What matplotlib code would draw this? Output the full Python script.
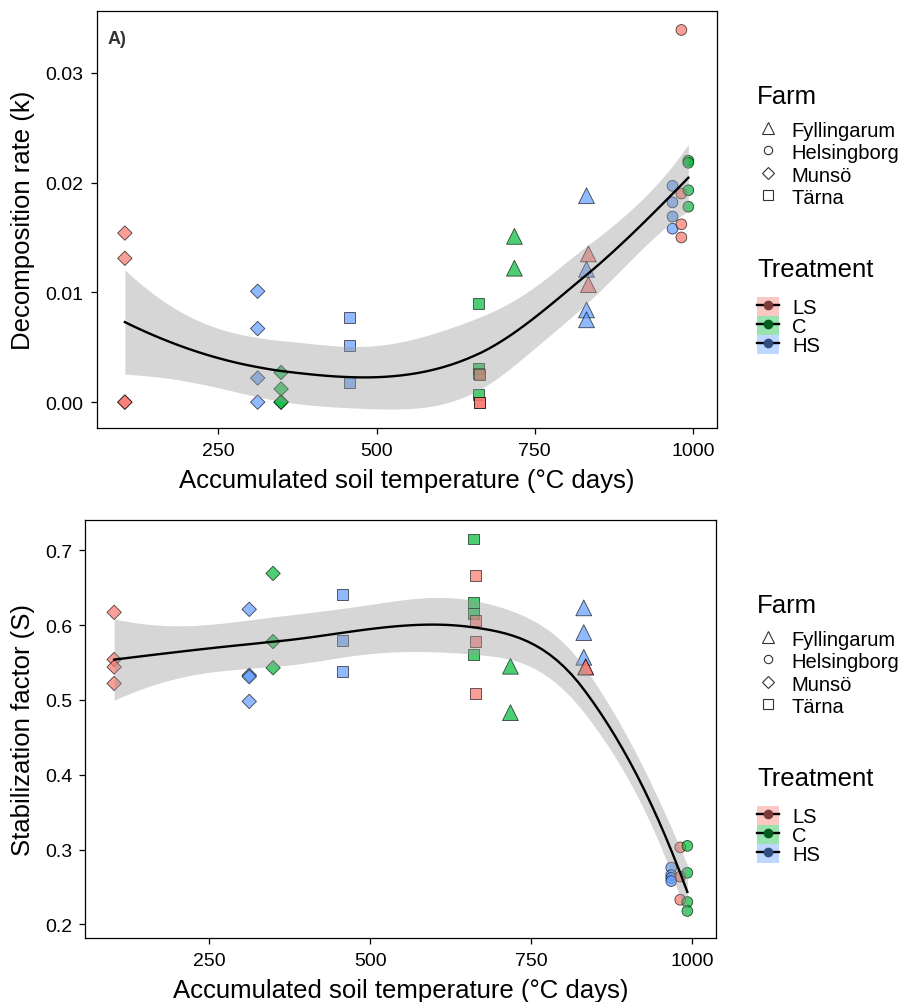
import math
import numpy as np
import pandas as pd
import matplotlib
matplotlib.use('Agg')
import matplotlib.pyplot as plt
from matplotlib.lines import Line2D
from matplotlib.patches import Patch

plt.rcParams['font.family'] = ['Liberation Sans', 'DejaVu Sans']

# one entry per farm x treatment group
group_farm = ['Munsö', 'Munsö', 'Munsö', 'Tärna', 'Tärna', 'Tärna',
              'Fyllingarum', 'Fyllingarum', 'Fyllingarum',
              'Helsingborg', 'Helsingborg', 'Helsingborg']
group_trt = ['LS', 'HS', 'C', 'HS', 'C', 'LS', 'C', 'HS', 'LS', 'HS', 'LS', 'C']
group_temp = [102, 312, 349, 457, 661, 663, 718, 832, 835, 968, 982, 993]

# decomposition rate k per group
k_vals = [
    [0.0154, 0.0131, 0.0, 0.0],
    [0.0101, 0.0067, 0.0022, 0.0],
    [0.0027, 0.0012, 0.0, 0.0],
    [0.0077, 0.0052, 0.0018],
    [0.0090, 0.0031, 0.0026, 0.0007],
    [0.0025, 0.0, 0.0],
    [0.0151, 0.0122],
    [0.0188, 0.0121, 0.0084, 0.0075],
    [0.0135, 0.0107],
    [0.0197, 0.0182, 0.0169, 0.0158],
    [0.0339, 0.0190, 0.0162, 0.0150],
    [0.0220, 0.0218, 0.0193, 0.0178],
]

# stabilization factor S per group
s_vals = [
    [0.617, 0.554, 0.544, 0.522],
    [0.621, 0.533, 0.531, 0.498],
    [0.669, 0.578, 0.543],
    [0.641, 0.580, 0.538],
    [0.715, 0.630, 0.616, 0.561],
    [0.666, 0.606, 0.578, 0.508],
    [0.545, 0.483],
    [0.623, 0.590, 0.557],
    [0.544, 0.544],
    [0.276, 0.266, 0.262, 0.258],
    [0.303, 0.264, 0.233],
    [0.305, 0.269, 0.230, 0.218],
]

farm_order = ['Fyllingarum', 'Helsingborg', 'Munsö', 'Tärna']
trt_order = ['LS', 'C', 'HS']
trt_colors = {'LS': '#F8766D', 'C': '#00BA38', 'HS': '#619CFF'}
farm_markers = {'Fyllingarum': '^', 'Helsingborg': 'o', 'Munsö': 'D', 'Tärna': 's'}
farm_sizes = {'Fyllingarum': 130, 'Helsingborg': 60, 'Munsö': 54, 'Tärna': 62}


def expand(vals):
    rows = []
    for f, t, x, vs in zip(group_farm, group_trt, group_temp, vals):
        for v in vs:
            rows.append((f, t, x, v))
    return pd.DataFrame(rows, columns=['farm', 'trt', 'temp', 'value'])


def t_quantile(p, df):
    xs = np.linspace(0, 12, 40001)
    c = math.exp(math.lgamma((df + 1) / 2) - math.lgamma(df / 2)) / math.sqrt(df * math.pi)
    pdf = c * (1 + xs ** 2 / df) ** (-(df + 1) / 2)
    cdf = 0.5 + np.concatenate([[0], np.cumsum((pdf[1:] + pdf[:-1]) / 2 * np.diff(xs))])
    return np.interp(p, cdf, xs)


def loess(x, y, xg, span=0.75):
    # local quadratic loess, evaluated at kd-tree vertices and
    # blended with cubic hermite pieces (like R's surface="interpolate")
    n = len(x)
    q = int(np.floor(n * span))
    xs = np.sort(x)

    def local_ops(x0):
        d = np.abs(x - x0)
        h = np.sort(d)[q - 1] * 1.0000001
        w = np.clip(1 - (d / h) ** 3, 0, None) ** 3
        X = np.column_stack([np.ones(n), x - x0, (x - x0) ** 2])
        A = X.T * w
        B = np.linalg.solve(A @ X, A)
        return B[0], B[1]

    rng = xs[-1] - xs[0]
    lo_b, hi_b = xs[0] - 0.005 * rng, xs[-1] + 0.005 * rng
    verts = [lo_b, hi_b]
    fc = int(np.floor(n * span * 0.2))

    def split(l, u, a, b):
        if u - l + 1 <= fc:
            return
        m = (l + u) // 2
        v = (xs[m] + xs[m + 1]) / 2
        if v <= a or v >= b:
            return
        verts.append(v)
        split(l, m, a, v)
        split(m + 1, u, v, b)

    split(0, n - 1, lo_b, hi_b)
    verts = np.unique(verts)
    ops = [local_ops(v) for v in verts]

    def row(x0):
        i = min(np.searchsorted(verts, x0, side='right') - 1, len(verts) - 2)
        a, b = verts[i], verts[i + 1]
        hh = b - a
        t = (x0 - a) / hh
        h00 = 2 * t ** 3 - 3 * t ** 2 + 1
        h10 = t ** 3 - 2 * t ** 2 + t
        h01 = -2 * t ** 3 + 3 * t ** 2
        h11 = t ** 3 - t ** 2
        return (h00 * ops[i][0] + h10 * hh * ops[i][1]
                + h01 * ops[i + 1][0] + h11 * hh * ops[i + 1][1])

    L = np.array([row(v) for v in x])
    Lg = np.array([row(v) for v in xg])
    fit = Lg @ y
    res = y - L @ y
    IL = np.eye(n) - L
    M = IL.T @ IL
    d1 = np.trace(M)
    d2 = np.trace(M @ M)
    s = math.sqrt(np.sum(res ** 2) / d1)
    se = s * np.sqrt(np.sum(Lg ** 2, axis=1))
    tq = t_quantile(0.975, d1 ** 2 / d2)
    return fit, fit - tq * se, fit + tq * se


def panel(ax, df, ylabel, yticks, yfmt):
    for farm in farm_order:
        sub = df[df['farm'] == farm]
        ax.scatter(sub['temp'], sub['value'], marker=farm_markers[farm],
                   s=farm_sizes[farm], c=[trt_colors[t] for t in sub['trt']],
                   edgecolors='black', linewidths=0.6, alpha=0.7, zorder=2)
    x = df['temp'].to_numpy(float)
    y = df['value'].to_numpy(float)
    xg = np.linspace(x.min(), x.max(), 80)
    fit, lo, hi = loess(x, y, xg)
    ax.fill_between(xg, lo, hi, color='#999999', alpha=0.4, lw=0, zorder=3)
    ax.plot(xg, fit, color='black', lw=1.7, zorder=4)

    xpad = 0.05 * (x.max() - x.min())
    ax.set_xlim(x.min() - xpad, x.max() + xpad)
    ymin = min(y.min(), lo.min())
    ymax = max(y.max(), hi.max())
    ypad = 0.05 * (ymax - ymin)
    ax.set_ylim(ymin - ypad, ymax + ypad)

    ax.set_xticks([250, 500, 750, 1000])
    ax.set_yticks(yticks)
    ax.set_yticklabels([yfmt.format(v) for v in yticks])
    ax.tick_params(length=4, width=0.9, labelsize=14, colors='black')
    ax.tick_params(axis='x', pad=6)
    ax.tick_params(axis='y', pad=5.5)
    for sp in ax.spines.values():
        sp.set_linewidth(0.9)
    ax.set_xlabel('Accumulated soil temperature (°C days)', fontsize=18.5, labelpad=6.5)
    ax.set_ylabel(ylabel, fontsize=18.5, labelpad=7.5)


def legends(fig, dy):
    x0 = 757 / 904
    fig.text(x0, 1 - (97 + dy) / 1003, 'Farm', fontsize=18.5, va='center', ha='left')
    farm_handles = [Line2D([], [], marker=farm_markers[f], linestyle='none',
                           markerfacecolor='none', markeredgecolor='#333333',
                           markeredgewidth=0.8,
                           markersize={'^': 9, 'o': 6, 'D': 6.5, 's': 6.5}[farm_markers[f]])
                    for f in farm_order]
    fig.legend(farm_handles, farm_order, loc='upper left',
               bbox_to_anchor=(x0, 1 - (121 + dy) / 1003), frameon=False,
               fontsize=14.5, handlelength=1.05, handleheight=1.0,
               labelspacing=0.12, handletextpad=0.65, borderpad=0,
               borderaxespad=0)
    fig.text(x0, 1 - (270 + dy) / 1003, 'Treatment', fontsize=18.5, va='center', ha='left')
    trt_handles = []
    for t in trt_order:
        c = np.array(matplotlib.colors.to_rgb(trt_colors[t]))
        trt_handles.append((Patch(facecolor=trt_colors[t], alpha=0.4, edgecolor='none'),
                            Line2D([], [], color='black', lw=1.7),
                            Line2D([], [], marker='o', linestyle='none', markersize=7,
                                   markerfacecolor=c * 0.5, markeredgecolor='none')))
    fig.legend(trt_handles, trt_order, loc='upper left',
               bbox_to_anchor=(x0, 1 - (298 + dy) / 1003), frameon=False,
               fontsize=14.5, handlelength=1.1, handleheight=1.07,
               labelspacing=-0.075, handletextpad=0.65, borderpad=0,
               borderaxespad=0)


fig = plt.figure(figsize=(9.04, 10.03), dpi=100)
ax1 = fig.add_axes([96.7 / 904, 1 - 429 / 1003, (716.5 - 96.7) / 904, (429 - 12) / 1003])
ax2 = fig.add_axes([85.5 / 904, 1 - 939 / 1003, (716 - 85.5) / 904, (939 - 521) / 1003])

panel(ax1, expand(k_vals), 'Decomposition rate (k)', [0.0, 0.01, 0.02, 0.03], '{:.2f}')
panel(ax2, expand(s_vals), 'Stabilization factor (S)', [0.2, 0.3, 0.4, 0.5, 0.6, 0.7], '{:.1f}')
ax1.text(0.017, 0.935, 'A)', transform=ax1.transAxes, fontsize=13, fontweight='bold',
         color='#333333', va='center', ha='left')

legends(fig, 0)
legends(fig, 509)

fig.savefig('out.png', dpi=100)
